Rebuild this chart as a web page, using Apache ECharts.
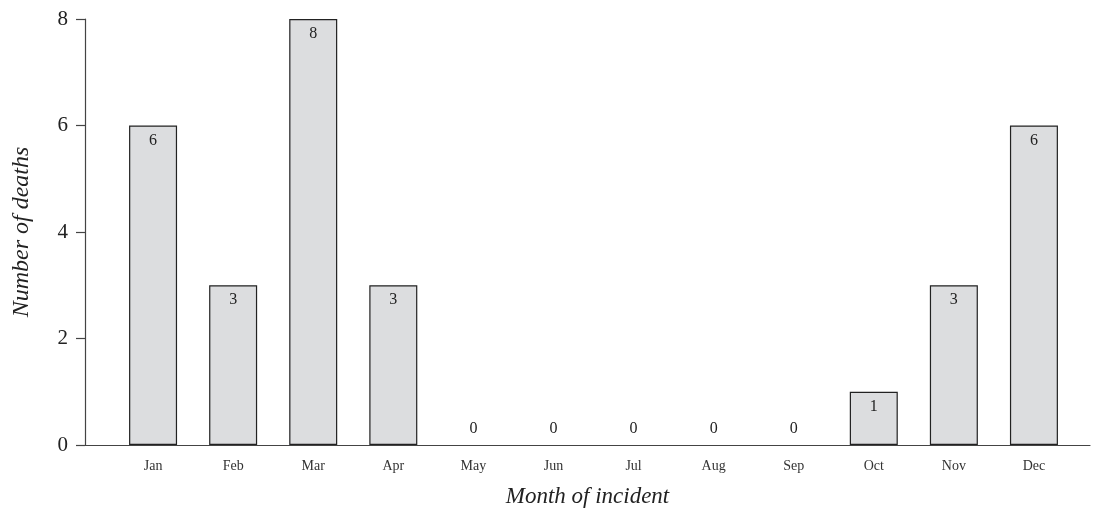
<!DOCTYPE html>
<html><head><meta charset="utf-8">
<script src="https://cdn.jsdelivr.net/npm/echarts@6/dist/echarts.min.js"></script>
<style>html,body{margin:0;padding:0;background:#fff}#c{width:1093px;height:510px}</style>
</head><body><div id="c"></div>
<script>
const months = ['Jan','Feb','Mar','Apr','May','Jun','Jul','Aug','Sep','Oct','Nov','Dec'];
const deaths = [6,3,8,3,0,0,0,0,0,1,3,6];
const yTicks = [0,2,4,6,8];
const FONT = "'Liberation Serif', 'DejaVu Serif', serif";

const chart = echarts.init(document.getElementById('c'));
const data = deaths.map((v,i)=>({
  value:[i,v],
  itemStyle: v===0 ? {borderWidth:0} : {},
  label:{position: v===0 ? 'top' : 'insideTop', distance: v===0 ? 8 : 7}
}));
chart.setOption({
  animation:false,
  grid:{left:85,right:3,top:19,bottom:65,containLabel:false,outerBoundsMode:'none'},
  xAxis:{
    type:'value', min:-0.85, max:11.7,
    name:'Month of incident', nameLocation:'middle', nameGap:40,
    nameTextStyle:{fontFamily:FONT,fontStyle:'italic',fontSize:23,color:'#222'},
    axisLine:{show:true,onZero:false,lineStyle:{color:'#444',width:1.2}},
    axisTick:{show:false},
    splitLine:{show:false},
    axisLabel:{customValues:months.map((m,i)=>i),formatter:v=>months[v],
      fontFamily:FONT,fontSize:14,color:'#333',margin:14}
  },
  yAxis:{
    type:'value', min:0, max:8, interval:2,
    name:'Number of deaths', nameLocation:'middle', nameGap:51, nameRotate:90,
    nameTextStyle:{fontFamily:FONT,fontStyle:'italic',fontSize:24,color:'#222'},
    axisLine:{show:true,onZero:false,lineStyle:{color:'#444',width:1.2}},
    axisTick:{show:true,length:9,lineStyle:{color:'#444',width:1.2}},
    splitLine:{show:false},
    axisLabel:{fontFamily:FONT,fontSize:21,color:'#222',margin:17}
  },
  series:[{
    type:'bar', barWidth:48, data:data,
    itemStyle:{color:'#dcdddf',borderColor:'#222',borderWidth:1.2},
    label:{show:true,formatter:p=>p.value[1],fontFamily:FONT,fontSize:16,color:'#222'}
  }]
});
</script></body></html>
